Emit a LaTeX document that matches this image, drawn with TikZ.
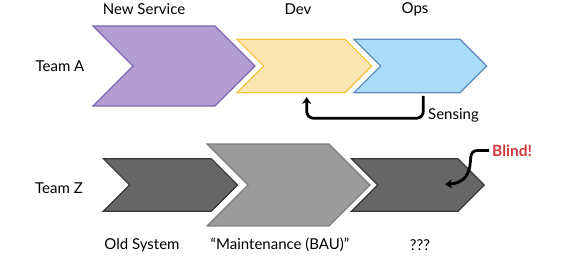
\documentclass[tikz,border=0pt]{standalone}
\usepackage{fontspec}
\setmainfont{Lato}
\usetikzlibrary{arrows.meta}
\definecolor{purpfill}{HTML}{B39DD0}
\definecolor{purpline}{HTML}{7A66AA}
\definecolor{yelfill}{HTML}{FCE3B2}
\definecolor{yelline}{HTML}{F2C744}
\definecolor{bluefill}{HTML}{A9DDF6}
\definecolor{blueline}{HTML}{5B8DBF}
\definecolor{darkfill}{HTML}{666666}
\definecolor{darkline}{HTML}{383838}
\definecolor{greyfill}{HTML}{9B9B9B}
\definecolor{greyline}{HTML}{7E7E7E}
\definecolor{blindred}{HTML}{D0383A}
\newcommand\chevshape[6]{%
  \draw[#6] (#2,#3) -- (#4,#3) -- ({#4+#5},{#3+#5}) -- (#4,{#3+2*#5})
    -- (#2,{#3+2*#5}) -- ({#2+#5},{#3+#5}) -- cycle;
  \coordinate (#1-tip) at ({#4+#5},{#3+#5});
  \coordinate (#1-c) at ({(#2+#4)/2+#5/2},{#3+#5});}
\tikzset{
  chevline/.style={line width=1.2pt, line join=miter},
  lbl/.style={font=\fontsize{15}{17}\selectfont, text=black, inner sep=0pt},
  fb/.style={line width=2.8pt, rounded corners=7pt, -{Stealth[length=7pt,width=9pt]}},
}
\begin{document}
\begin{tikzpicture}[x=1pt,y=-1pt]
\useasboundingbox (0,0) rectangle (566,256);
% Team A row
\chevshape{ns}{93}{26}{215}{40}{chevline, draw=purpline, fill=purpfill}
\chevshape{dev}{237}{39.3}{345}{26.7}{chevline, draw=yelline, fill=yelfill}
\chevshape{ops}{354}{39.3}{460}{26.7}{chevline, draw=blueline, fill=bluefill}
% Team Z row
\chevshape{old}{103.3}{158.7}{211.3}{26.3}{chevline, draw=darkline, fill=darkfill}
\chevshape{bau}{207}{144}{329}{41}{chevline, draw=greyline, fill=greyfill}
\chevshape{unk}{351.5}{158.7}{458}{26.3}{chevline, draw=darkline, fill=darkfill}
% labels
\node[lbl] (teamA) at (60,66) {Team A};
\node[lbl] (teamZ) at (59,188) {Team Z};
\node[lbl] (lns) at (144,9) {New Service};
\node[lbl] (ldev) at (298,9) {Dev};
\node[lbl] (lops) at (415,9) {Ops};
\node[lbl] (lold) at (142,245) {Old System};
\node[lbl] (lbau) at (280,245) {“Maintenance (BAU)”};
\node[lbl] (lunk) at (420,245) {???};
\node[lbl, anchor=west] (sens) at (428,115) {Sensing};
\node[lbl, anchor=west, font=\fontsize{15.5}{17}\selectfont\bfseries, text=blindred] (blind) at (492,151) {Blind!};
% connectors
\coordinate (sensA) at (423.3,96);
\coordinate (sensB) at (306.7,97);
\draw[fb] (sensA) -- (423.3,118.3) -- (306.7,118.3) -- (sensB);
\coordinate (blindA) at (489,150.5);
\coordinate (blindB) at (445,184.5);
\draw[line width=2.8pt, -{Stealth[length=7pt,width=9pt]}] (blindA) -- (478,150.5)
  .. controls (468,150.5) and (472,160) .. (469,170)
  .. controls (466,180) and (458,183.5) .. (blindB);
\end{tikzpicture}
\end{document}
